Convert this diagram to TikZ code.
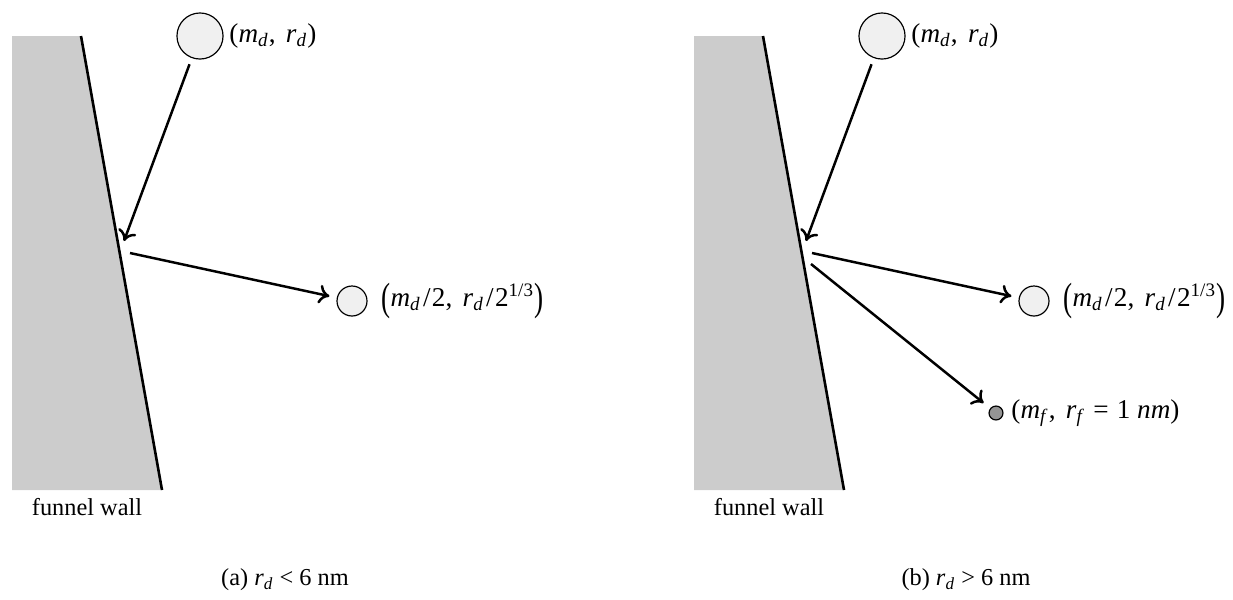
\documentclass[tikz,border=0pt]{standalone}
\usepackage{fontspec}
\setmainfont{Liberation Serif}
\usepackage{graphicx}
\usetikzlibrary{arrows.meta}
\newcommand\vi[1]{\textit{#1}}
\newcommand\vsub[2]{\textit{#1}\textsubscript{\textit{#2}}}
\newcommand\bigparen[1]{\raisebox{-1.6pt}{\scalebox{1}[1.45]{#1}}}
\newcommand\cmsep{,\hspace{0.38em}}
\newcommand\slsep{\hspace{0.08em}/\hspace{0.05em}}
\begin{document}
\begin{tikzpicture}[x=0.4233pt,y=-0.4233pt,
  wallfill/.style={fill=black!20},
  wallline/.style={line width=1.1pt},
  drop/.style={circle,draw,line width=0.5pt,fill=black!6,inner sep=0pt},
  bigdrop/.style={drop,minimum size=19.5pt,outer sep=3pt},
  halfdrop/.style={drop,minimum size=12.7pt,outer sep=3.4pt},
  fragdrop/.style={circle,draw,line width=0.5pt,fill=black!42,inner sep=0pt,minimum size=5.9pt,outer sep=3.8pt},
  traj/.style={line width=1.05pt,-{To[length=4.5pt,width=8pt,line width=1.05pt]}},
  lbl/.style={anchor=west,inner sep=0pt,font=\fontsize{11.5}{13}\selectfont},
  txt/.style={font=\fontsize{10.3}{12}\selectfont}
]
\useasboundingbox (0,0) rectangle (1233,599);
% ---------- panel (a)
\coordinate (wta) at (81,36);
\coordinate (wba) at (162,490);
\fill[wallfill] (12,36) -- (wta) -- (wba) -- (12,490) -- cycle;
\draw[wallline] (wta) -- (wba);
\node[bigdrop] (da) at (200,36) {};
\node[lbl] (la) at (229,36) {(\vsub{m}{d}\cmsep\vsub{r}{d})};
\coordinate (hita) at (124,241);
\coordinate (outa) at (130,253);
\node[halfdrop] (ha) at (352,301) {};
\node[lbl] (lha) at (381,301) {\bigparen{(}\vsub{m}{d}\slsep 2\cmsep\vsub{r}{d}\slsep 2\textsuperscript{1/3}\bigparen{)}};
\draw[traj] (da) -- (hita);
\draw[traj] (outa) -- (ha);
\node[txt] (fwa) at (87,507) {funnel wall};
\node[txt] (capa) at (285,580) {(a) \vsub{r}{d} \textless{} 6 nm};
% ---------- panel (b)
\coordinate (wtb) at (763,36);
\coordinate (wbb) at (844,490);
\fill[wallfill] (694,36) -- (wtb) -- (wbb) -- (694,490) -- cycle;
\draw[wallline] (wtb) -- (wbb);
\node[bigdrop] (db) at (882,36) {};
\node[lbl] (lb) at (911,36) {(\vsub{m}{d}\cmsep\vsub{r}{d})};
\coordinate (hitb) at (806,241);
\coordinate (outb) at (812,253);
\coordinate (outc) at (811,264);
\node[halfdrop] (hb) at (1034,301) {};
\node[lbl] (lhb) at (1063,301) {\bigparen{(}\vsub{m}{d}\slsep 2\cmsep\vsub{r}{d}\slsep 2\textsuperscript{1/3}\bigparen{)}};
\node[fragdrop] (fb) at (996,413) {};
\node[lbl] (lfb) at (1011,413) {(\vsub{m}{f}\cmsep\vsub{r}{f}\hspace{0.3em}=\hspace{0.3em}1 \vi{nm})};
\draw[traj] (db) -- (hitb);
\draw[traj] (outb) -- (hb);
\draw[traj] (outc) -- (fb);
\node[txt] (fwb) at (769,507) {funnel wall};
\node[txt] (capb) at (966,580) {(b) \vsub{r}{d} \textgreater{} 6 nm};
\end{tikzpicture}
\end{document}
